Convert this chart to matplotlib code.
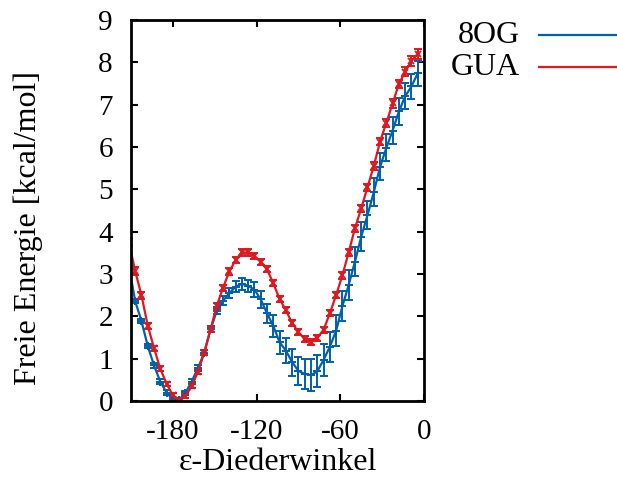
import numpy as np
import matplotlib.pyplot as plt
from matplotlib.lines import Line2D

plt.rcParams['font.family'] = ['Liberation Serif', 'DejaVu Serif']
plt.rcParams['axes.unicode_minus'] = False

# Diederwinkel (Grad)
winkel = [-211.5, -207, -202.5, -198, -193.5, -189, -184.5, -180, -175.5, -171,
          -166.5, -162, -157.5, -153, -148.5, -144, -139.5, -135, -130.5,
          -126, -121.5, -117, -112.5, -108, -103.5, -99, -94.5, -90, -85.5,
          -81, -76.5, -72, -67.5, -63, -58.5, -54, -49.5, -45, -40.5, -36,
          -31.5, -27, -22.5, -18, -13.5, -9, -4.5]

# freie Energie 8OG (kcal/mol)
e_8og = [3.20, 2.36, 1.89, 1.30, 0.84, 0.46, 0.20, 0.03, 0.03, 0.19,
         0.46, 0.78, 1.14, 1.69, 2.13, 2.37, 2.55, 2.70, 2.77,
         2.72, 2.63, 2.40, 2.07, 1.77, 1.39, 1.19, 0.92, 0.71, 0.64,
         0.61, 0.70, 0.97, 1.28, 1.66, 2.24, 2.74, 3.29, 3.88, 4.39, 4.93,
         5.53, 5.98, 6.39, 6.84, 7.20, 7.43, 7.74]
err_8og = [0.05, 0.05, 0.05, 0.05, 0.05, 0.05, 0.05, 0.04, 0.04, 0.05,
           0.05, 0.06, 0.06, 0.07, 0.08, 0.10, 0.12, 0.13, 0.14,
           0.15, 0.17, 0.20, 0.22, 0.25, 0.27, 0.30, 0.32, 0.34, 0.36,
           0.38, 0.38, 0.37, 0.36, 0.36, 0.35, 0.35, 0.34, 0.34, 0.33, 0.33,
           0.32, 0.32, 0.32, 0.31, 0.31, 0.30, 0.30]

# freie Energie GUA (kcal/mol)
e_gua = [3.75, 3.07, 2.50, 1.78, 1.25, 0.76, 0.41, 0.13, 0.03, 0.11,
         0.35, 0.69, 1.14, 1.69, 2.25, 2.68, 3.06, 3.33, 3.51,
         3.51, 3.43, 3.28, 3.11, 2.78, 2.41, 2.14, 1.84, 1.63, 1.46,
         1.40, 1.49, 1.68, 2.07, 2.50, 2.97, 3.51, 4.08, 4.55, 5.05, 5.55,
         6.13, 6.57, 7.03, 7.49, 7.78, 8.03, 8.20]
err_gua = [0.10, 0.10, 0.08, 0.07, 0.06, 0.06, 0.05, 0.05, 0.05, 0.05,
           0.05, 0.05, 0.06, 0.06, 0.07, 0.07, 0.08, 0.08, 0.08,
           0.08, 0.07, 0.07, 0.07, 0.07, 0.07, 0.07, 0.07, 0.07, 0.07,
           0.07, 0.07, 0.07, 0.07, 0.07, 0.08, 0.08, 0.08, 0.08, 0.08, 0.09,
           0.09, 0.09, 0.10, 0.10, 0.11, 0.12, 0.12]

blau = '#0060ad'
rot = '#dd181f'

fig = plt.figure(figsize=(6.17, 4.86), dpi=100)
ax = fig.add_axes([0.2123, 0.1749, 0.4749, 0.7839])

ax.errorbar(winkel, e_8og, yerr=err_8og, color=blau, lw=1.6, marker='+',
            ms=6, mew=1.4, elinewidth=1.4, capsize=3, capthick=1.4)
ax.errorbar(winkel, e_gua, yerr=err_gua, color=rot, lw=1.6, marker='x',
            ms=5, mew=1.4, elinewidth=1.4, capsize=3, capthick=1.4)

ax.set_xlim(-210, 0)
ax.set_ylim(0, 9)
ax.set_xticks([-180, -120, -60, 0])
ax.set_yticks(range(10))
ax.tick_params(direction='in', top=True, right=True, length=5, width=1.5,
               labelsize=21)
ax.tick_params(axis='y', pad=13)
ax.tick_params(axis='x', pad=13)
for s in ax.spines.values():
    s.set_linewidth(2)

ax.set_xlabel('ε-Diederwinkel', fontsize=23, labelpad=2)
ax.set_ylabel('Freie Energie [kcal/mol]', fontsize=23, va='center')
ax.yaxis.set_label_coords(-0.35, 0.455)

# Legende von Hand
fig.text(0.842, 0.926, '8OG', fontsize=23, ha='right', va='center')
fig.text(0.842, 0.862, 'GUA', fontsize=23, ha='right', va='center')
fig.add_artist(Line2D([0.874, 1.0], [0.928, 0.928], color=blau, lw=1.6))
fig.add_artist(Line2D([0.874, 1.0], [0.862, 0.862], color=rot, lw=1.6))

fig.savefig('out.png', dpi=100)
